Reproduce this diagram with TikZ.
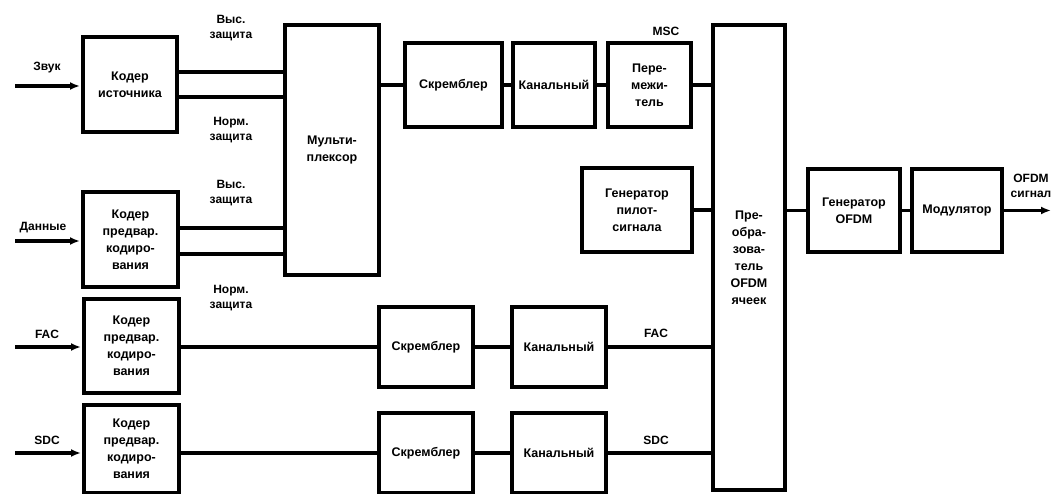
\documentclass[tikz,border=0pt]{standalone}
\usepackage{fontspec}
\setmainfont{Liberation Sans}
\usetikzlibrary{arrows.meta}
\begin{document}
\begin{tikzpicture}[x=1pt,y=-1pt,
  blk/.style={draw, line width=4pt, align=center, inner sep=1pt,
    font=\fontsize{12.5}{17}\selectfont\bfseries},
  wire/.style={line width=3.2pt},
  inarr/.style={line width=3.2pt, -{Latex[length=10pt,width=8pt]}, shorten >=1pt},
  lbl/.style={align=center, inner sep=0pt, font=\fontsize{12}{15}\selectfont\bfseries}]
\useasboundingbox (0,0) rectangle (1058,494);
% left column coders
\node[blk, minimum width=94, minimum height=95] (src) at (130,84.5) {Кодер\\источника};
\node[blk, minimum width=95, minimum height=95] (dat) at (130.5,240) {Кодер\\предвар.\\кодиро-\\вания};
\node[blk, minimum width=95, minimum height=94] (fcd) at (131.5,346) {Кодер\\предвар.\\кодиро-\\вания};
\node[blk, minimum width=95, minimum height=88] (scd) at (131.5,449) {Кодер\\предвар.\\кодиро-\\вания};
% inputs
\coordinate (inA) at (15,86);
\coordinate (inB) at (15,241);
\coordinate (inC) at (15,347);
\coordinate (inD) at (15,453);
\draw[inarr] (inA) -- (src.west |- inA);
\draw[inarr] (inB) -- (dat.west |- inB);
\draw[inarr] (inC) -- (fcd.west |- inC);
\draw[inarr] (inD) -- (scd.west |- inD);
\node[lbl] (tA) at (47,68) {Звук};
\node[lbl] (tB) at (43,228) {Данные};
\node[lbl] (tC) at (47,334) {FAC};
\node[lbl] (tD) at (47,440) {SDC};
% multiplexer
\node[blk, minimum width=94, minimum height=250] (mux) at (332,150) {Мульти-\\плексор};
\draw[wire] (src.east |- 0,72) -- (mux.west |- 0,72);
\draw[wire] (src.east |- 0,97) -- (mux.west |- 0,97);
\draw[wire] (dat.east |- 0,228) -- (mux.west |- 0,228);
\draw[wire] (dat.east |- 0,254) -- (mux.west |- 0,254);
\node[lbl] (h1) at (231,28) {Выс.\\защита};
\node[lbl] (n1) at (231,130) {Норм.\\защита};
\node[lbl] (h2) at (231,193) {Выс.\\защита};
\node[lbl] (n2) at (231,298) {Норм.\\защита};
% MSC chain
\node[blk, minimum width=97, minimum height=84] (scr1) at (453.5,85) {Скремблер};
\node[blk, minimum width=82, minimum height=84] (ch1) at (554,85) {Канальный};
\node[blk, minimum width=83, minimum height=84] (il) at (649.5,85) {Пере-\\межи-\\тель};
\node[lbl] (msc) at (666,31) {MSC};
% OFDM cell mapper
\node[blk, minimum width=72, minimum height=465] (cell) at (749,257.5) {Пре-\\обра-\\зова-\\тель\\OFDM\\ячеек};
\draw[wire] (mux.east |- scr1) -- (scr1.west);
\draw[wire] (scr1) -- (ch1);
\draw[wire] (ch1) -- (il);
\draw[wire] (il.east) -- (cell.west |- il.east);
% pilot
\node[blk, minimum width=110, minimum height=84] (pil) at (637,210) {Генератор\\пилот-\\сигнала};
\draw[wire] (pil.east) -- (cell.west |- pil.east);
% OFDM gen and modulator
\node[blk, minimum width=92, minimum height=83] (gen) at (854,210.5) {Генератор\\OFDM};
\node[blk, minimum width=90, minimum height=83] (mod) at (957,210.5) {Модулятор};
\draw[wire] (cell.east |- gen.west) -- (gen.west);
\draw[wire] (gen) -- (mod);
\coordinate (out) at (1052,210.5);
\draw[inarr] (mod.east) -- (out);
\node[lbl] (osig) at (1031,186) {OFDM\\сигнал};
% FAC chain
\node[blk, minimum width=94, minimum height=80] (scr2) at (426,347) {Скремблер};
\node[blk, minimum width=94, minimum height=80] (ch2) at (559,347) {Канальный};
\draw[wire] (fcd.east |- scr2) -- (scr2.west);
\draw[wire] (scr2) -- (ch2);
\draw[wire] (ch2.east) -- (cell.west |- ch2.east);
\node[lbl] (fl) at (656,333) {FAC};
% SDC chain
\node[blk, minimum width=94, minimum height=80] (scr3) at (426,453) {Скремблер};
\node[blk, minimum width=94, minimum height=80] (ch3) at (559,453) {Канальный};
\draw[wire] (scd.east |- scr3) -- (scr3.west);
\draw[wire] (scr3) -- (ch3);
\draw[wire] (ch3.east) -- (cell.west |- ch3.east);
\node[lbl] (sl) at (656,440) {SDC};
\end{tikzpicture}
\end{document}
